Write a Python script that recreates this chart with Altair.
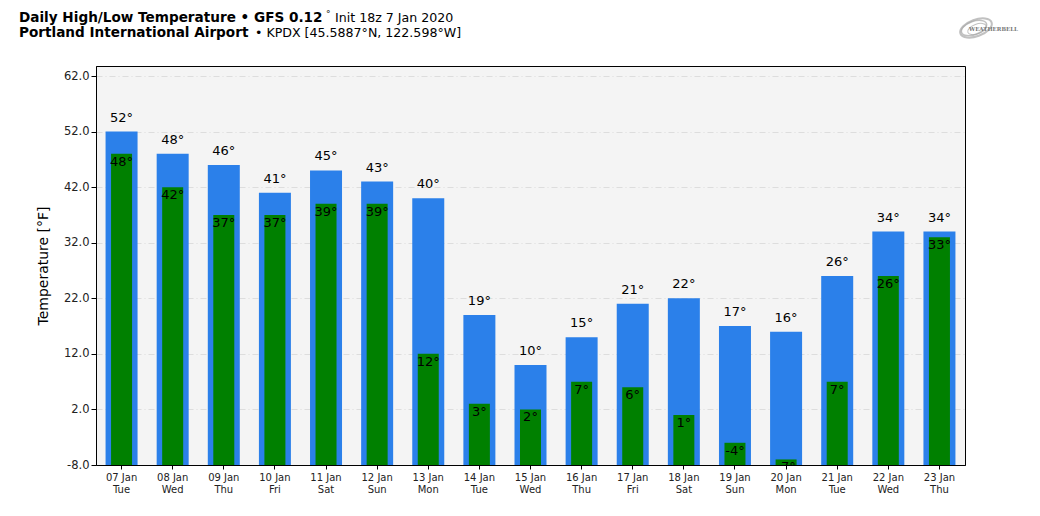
import altair as alt
import pandas as pd

dates = ["07 Jan", "08 Jan", "09 Jan", "10 Jan", "11 Jan", "12 Jan", "13 Jan", "14 Jan", "15 Jan",
         "16 Jan", "17 Jan", "18 Jan", "19 Jan", "20 Jan", "21 Jan", "22 Jan", "23 Jan"]
days = ["Tue", "Wed", "Thu", "Fri", "Sat", "Sun", "Mon", "Tue", "Wed",
        "Thu", "Fri", "Sat", "Sun", "Mon", "Tue", "Wed", "Thu"]
highs = [52, 48, 46, 41, 45, 43, 40, 19, 10, 15, 21, 22, 17, 16, 26, 34, 34]
lows = [48, 42, 37, 37, 39, 39, 12, 3, 2, 7, 6, 1, -4, -7, 7, 26, 33]
y_ticks = [-8, 2, 12, 22, 32, 42, 52, 62]

df = pd.DataFrame({
    "cat": [f"{d}|{w}" for d, w in zip(dates, days)],
    "high": highs,
    "low": lows,
})
df["high_lbl"] = [f"{v}°" for v in highs]
df["low_lbl"] = [f"{v}°" for v in lows]

FONT = "DejaVu Sans"
order = list(df["cat"])
xenc = alt.X("cat:N", sort=order, title=None,
             scale=alt.Scale(paddingInner=0, paddingOuter=0),
             axis=alt.Axis(labelExpr="split(datum.label, '|')", labelAngle=0,
                           labelFontSize=10, labelColor="#222222", labelFont=FONT,
                           domainColor="black", tickColor="black", tickSize=4,
                           labelPadding=3, labelLineHeight=12))
yscale = alt.Scale(domain=[-8, 63.8], nice=False, zero=False)
yaxis = alt.Axis(values=y_ticks,
                 labelExpr="(datum.value < 0 ? '-' : '') + format(abs(datum.value), '.1f')",
                 title="Temperature [°F]",
                 titleFontSize=14, titleFontWeight="normal", titleFont=FONT,
                 titleColor="black", labelFontSize=11.5, labelFont=FONT,
                 labelColor="#222222", grid=True, gridColor="#dddddd", gridDash=[6, 3, 1, 3],
                 domainColor="black", tickColor="black", tickSize=5, titlePadding=13)

base = alt.Chart(df)

hi_bar = base.mark_bar(size=32, color="#2b80ea").encode(
    x=xenc, y=alt.Y("high:Q", scale=yscale, axis=yaxis), y2=alt.datum(-8))
lo_bar = base.mark_bar(size=21, color="#008000").encode(
    x=alt.X("cat:N", sort=order), y=alt.Y("low:Q"), y2=alt.datum(-8))
hi_txt = base.mark_text(dy=-14, fontSize=13, font=FONT, color="black",
                        baseline="middle").encode(
    x=alt.X("cat:N", sort=order), y="high:Q", text="high_lbl:N")
lo_txt = base.mark_text(dy=8, fontSize=13, font=FONT, color="black",
                        baseline="middle", clip=True).encode(
    x=alt.X("cat:N", sort=order), y="low:Q", text="low_lbl:N")

def label(txt, x, y, size=13, weight="normal", color="black", font=FONT):
    return alt.Chart(pd.DataFrame({"t": [txt]})).mark_text(
        align="left", baseline="alphabetic", fontSize=size, fontWeight=weight,
        font=font, color=color).encode(
        x=alt.value(x), y=alt.value(y), text="t:N")

ellipse = "M -1 0 A 1 0.5 0 1 1 1 0 A 1 0.5 0 1 1 -1 0 Z"
def swirl(x, y, size, width):
    return alt.Chart(pd.DataFrame({"t": [0]})).mark_point(
        shape=ellipse, filled=False, stroke="#a8a8a8", strokeWidth=width, angle=340,
        size=size).encode(x=alt.value(x), y=alt.value(y))

titles = [
    label("Daily High/Low Temperature • GFS 0.12", -77, -44, 13.6, "bold"),
    label("°", 230, -49, 9),
    label("Init 18z 7 Jan 2020", 239, -44, 12.6),
    label("Portland International Airport", -77, -29, 13.6, "bold"),
    label("• KPDX [45.5887°N, 122.598°W]", 159, -29, 12.6),
    swirl(880, -38, 1100, 2),
    swirl(878, -38, 700, 1.5),
    swirl(881, -37, 380, 1),
    label("WEATHERBELL", 873, -35, 5.5, "bold", "#777777", "DejaVu Serif"),
]

chart = alt.layer(hi_bar, lo_bar, hi_txt, lo_txt, *titles).properties(
    width=869, height=399,
    autosize=alt.AutoSizeParams(type="none"),
    padding={"left": 88, "top": 58, "right": 67, "bottom": 43},
    background="white",
).configure_view(fill="#f4f4f4", stroke="black", strokeWidth=1)

chart.save("out.html", embed_options={"renderer": "svg", "actions": False})
